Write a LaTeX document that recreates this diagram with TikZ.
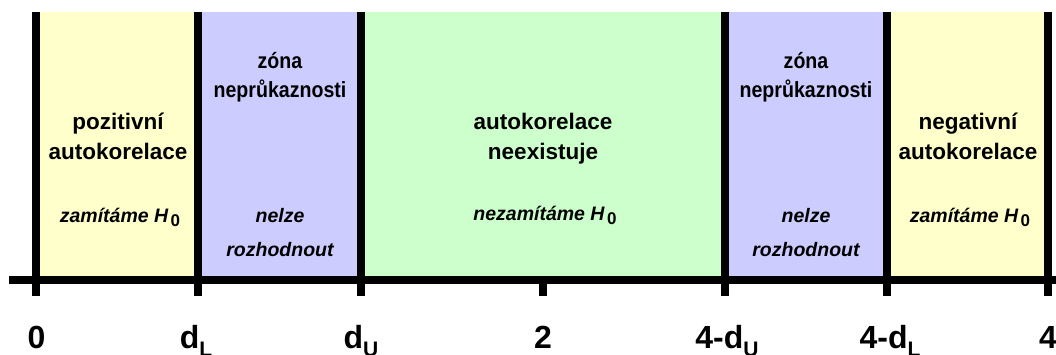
\documentclass[tikz,border=0pt]{standalone}
\usepackage{fontspec}
\setmainfont{Liberation Sans}
\newfontfamily\narrowsans[FakeStretch=0.89]{Liberation Sans}
\usetikzlibrary{calc}
\definecolor{rejectfill}{HTML}{FFFFCC}
\definecolor{zonefill}{HTML}{CCCCFF}
\definecolor{keepfill}{HTML}{CCFFCC}
\newcommand{\Hnull}{H\kern2.5pt\raisebox{-4pt}{\fontsize{17}{17}\selectfont\upshape 0}}
\newcommand{\sub}[1]{\raisebox{-8pt}{\fontsize{21}{21}\selectfont #1}}
\begin{document}
\begin{tikzpicture}[x=1pt,y=-1pt,
  bar/.style={line width=8pt},
  head/.style={font=\fontsize{22.5}{26}\selectfont\bfseries, anchor=base, inner sep=0pt},
  zonehead/.style={font=\narrowsans\fontsize{22}{26}\selectfont\bfseries, anchor=base, inner sep=0pt},
  note/.style={font=\fontsize{19.5}{22}\selectfont\bfseries\itshape, anchor=base, inner sep=0pt},
  ticklab/.style={font=\fontsize{32}{32}\selectfont\bfseries, anchor=base, inner sep=0pt}]
\useasboundingbox (0,0) rectangle (1056,354);
% boundaries of the zones
\coordinate (b0) at (36,12);
\coordinate (b1) at (198,12);
\coordinate (b2) at (361,12);
\coordinate (b3) at (725,12);
\coordinate (b4) at (887,12);
\coordinate (b5) at (1048,12);
% zone fills
\fill[rejectfill] (b0) rectangle (198,280);
\fill[zonefill] (b1) rectangle (361,280);
\fill[keepfill] (b2) rectangle (725,280);
\fill[zonefill] (b3) rectangle (887,280);
\fill[rejectfill] (b4) rectangle (1048,280);
% axis
\coordinate (axL) at (9,280);
\coordinate (axR) at (1056,280);
\draw[line width=7.5pt] (axL) -- (axR);
% boundary lines with ticks
\foreach \b in {b0,b1,b2,b3,b4,b5}
  \draw[bar] (\b) -- ($(\b)+(0,284)$);
\coordinate (mid) at (543,280);
\draw[bar] (mid) -- ++(0,16);
% zone texts
\node[head] (t1a) at (118,129) {pozitivní};
\node[head] (t1b) at (118,159) {autokorelace};
\node[note] (t1c) at (120,222) {zamítáme \Hnull};
\node[zonehead] (t2a) at (280,68) {zóna};
\node[zonehead] (t2b) at (280,97) {neprůkaznosti};
\node[note] (t2c) at (280,222) {nelze};
\node[note] (t2d) at (280,256) {rozhodnout};
\node[head] (t3a) at (543,129) {autokorelace};
\node[head] (t3b) at (543,159) {neexistuje};
\node[note] (t3c) at (545,220) {nezamítáme \Hnull};
\node[zonehead] (t4a) at (806,68) {zóna};
\node[zonehead] (t4b) at (806,97) {neprůkaznosti};
\node[note] (t4c) at (806,222) {nelze};
\node[note] (t4d) at (806,256) {rozhodnout};
\node[head] (t5a) at (968,129) {negativní};
\node[head] (t5b) at (968,159) {autokorelace};
\node[note] (t5c) at (970,222) {zamítáme \Hnull};
% tick labels
\node[ticklab] (l0) at (36.5,348) {0};
\node[ticklab] (l1) at (196,348) {d\sub{L}};
\node[ticklab] (l2) at (361,348) {d\sub{U}};
\node[ticklab] (l3) at (543,348) {2};
\node[ticklab] (l4) at (727,348) {4-d\sub{U}};
\node[ticklab] (l5) at (890,348) {4-d\sub{L}};
\node[ticklab] (l6) at (1048,348) {4};
\end{tikzpicture}
\end{document}
